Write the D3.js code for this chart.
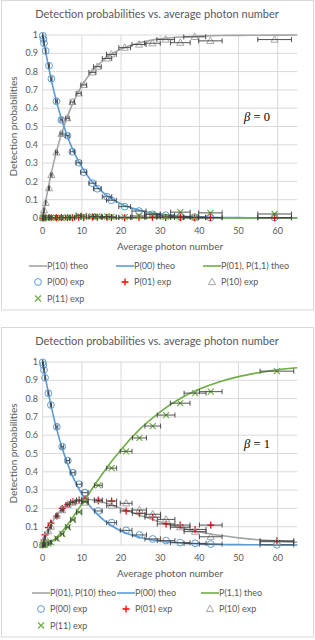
<!DOCTYPE html>
<html>
<head>
<meta charset="utf-8">
<script src="https://cdn.jsdelivr.net/npm/d3@7"></script>
<style>
body { margin: 0; background: #fff; }
svg { display: block; }
text { font-family: Lato, "Open Sans", sans-serif; fill: #595959; }
</style>
</head>
<body>
<svg id="canvas"></svg>
<script>
const WIDTH = 315;
const HEIGHT = 640;

// Theory curves
const theoN = [0, 1, 2, 3, 4, 5, 6, 7, 8, 10, 12, 14, 16, 18, 20, 25, 30, 35, 40, 45, 50, 55, 60, 65];
const p00Theo = [1, 0.88, 0.774, 0.681, 0.599, 0.527, 0.464, 0.408, 0.359, 0.278, 0.215, 0.167, 0.129, 0.1, 0.077, 0.041, 0.021, 0.011, 0.006, 0.003, 0.002, 0.001, 0.0005, 0.0002];
const b0P10Theo = [0, 0.12, 0.226, 0.319, 0.401, 0.473, 0.536, 0.592, 0.641, 0.722, 0.785, 0.833, 0.871, 0.9, 0.923, 0.959, 0.979, 0.989, 0.994, 0.997, 0.998, 0.999, 0.9995, 0.9998];
const b0P11Theo = [0, 0, 0, 0, 0, 0, 0, 0, 0, 0, 0, 0, 0, 0, 0, 0, 0, 0, 0, 0, 0, 0, 0, 0];
const b1P01Theo = [0, 0.058, 0.106, 0.144, 0.175, 0.199, 0.217, 0.231, 0.24, 0.249, 0.249, 0.241, 0.23, 0.216, 0.201, 0.161, 0.126, 0.095, 0.071, 0.053, 0.039, 0.029, 0.021, 0.015];
const b1P11Theo = [0, 0.004, 0.014, 0.031, 0.051, 0.075, 0.102, 0.13, 0.161, 0.224, 0.287, 0.351, 0.411, 0.468, 0.521, 0.637, 0.728, 0.799, 0.852, 0.891, 0.92, 0.941, 0.958, 0.969];

// Measurements, beta = 0
const b0N = [0, 0.18, 0.33, 0.77, 1.61, 2.22, 3.5, 4.77, 6.31, 7.58, 9.19, 10.47, 12.69, 13.96, 16.42, 17.54, 20.93, 24.59, 28.01, 31.4, 35.15, 38.81, 42.81, 59.21];
const b0Err = [0, 0.02, 0.03, 0.06, 0.12, 0.16, 0.25, 0.35, 0.45, 0.55, 0.65, 0.75, 0.9, 1.0, 1.2, 1.25, 1.5, 1.8, 2.0, 2.25, 2.5, 2.8, 3.0, 4.3];
const b0P00 = [0.996, 0.978, 0.955, 0.913, 0.832, 0.761, 0.638, 0.536, 0.45, 0.362, 0.302, 0.25, 0.19, 0.16, 0.116, 0.097, 0.062, 0.038, 0.02, 0.015, 0.007, 0.005, 0.002, 0.002];
const b0P01 = [0, 0.001, 0.001, 0.002, 0.003, 0.002, 0.002, 0.003, 0.002, 0.002, 0.004, 0.003, 0.005, 0.004, 0.004, 0.003, 0.002, 0.003, 0.004, 0.003, 0.003, 0.002, 0.002, 0.001];
const b0P10 = [0.004, 0.02, 0.043, 0.083, 0.163, 0.235, 0.358, 0.46, 0.545, 0.634, 0.681, 0.727, 0.796, 0.827, 0.872, 0.894, 0.931, 0.948, 0.955, 0.975, 0.958, 0.99, 0.968, 0.975];
const b0P11 = [0, 0.001, 0.001, 0.002, 0.002, 0.002, 0.002, 0.001, 0.003, 0.002, 0.013, 0.01, 0.009, 0.009, 0.008, 0.006, 0.005, 0.011, 0.021, 0.007, 0.032, 0.003, 0.028, 0.022];

// Measurements, beta = 1
const b1N = [0, 0.15, 0.33, 0.6, 1.45, 2.1, 3.6, 5.0, 6.4, 7.7, 9.3, 10.8, 14.2, 17.6, 21.3, 24.7, 28.1, 31.5, 35.1, 38.9, 42.9, 59.8];
const b1Err = [0, 0.01, 0.03, 0.05, 0.11, 0.15, 0.26, 0.36, 0.46, 0.55, 0.67, 0.78, 1.0, 1.27, 1.5, 1.8, 2.0, 2.25, 2.5, 2.8, 2.9, 4.3];
const b1P00 = [0.998, 0.984, 0.956, 0.914, 0.829, 0.765, 0.646, 0.537, 0.461, 0.395, 0.332, 0.286, 0.186, 0.122, 0.08, 0.055, 0.033, 0.024, 0.013, 0.009, 0.005, 0.001];
const b1P01 = [0, 0.01, 0.027, 0.055, 0.095, 0.12, 0.158, 0.2, 0.222, 0.237, 0.246, 0.25, 0.242, 0.24, 0.186, 0.173, 0.152, 0.115, 0.109, 0.085, 0.109, 0.023];
const b1P10 = [0, 0.008, 0.02, 0.04, 0.075, 0.1, 0.16, 0.19, 0.22, 0.232, 0.24, 0.232, 0.246, 0.215, 0.228, 0.191, 0.168, 0.14, 0.097, 0.073, 0.045, 0.018];
const b1P11 = [0, 0.001, 0.002, 0.003, 0.008, 0.015, 0.035, 0.06, 0.097, 0.137, 0.18, 0.237, 0.326, 0.42, 0.512, 0.585, 0.65, 0.71, 0.775, 0.83, 0.838, 0.95];

const xTicks = [0, 10, 20, 30, 40, 50, 60];
const yTicks = [0, 0.1, 0.2, 0.3, 0.4, 0.5, 0.6, 0.7, 0.8, 0.9, 1];

const BLUE = "#5B9BD5";
const GREY = "#A5A5A5";
const GREEN = "#70AD47";
const RED = "#FF0000";
const ERRCOL = "#404040";

const svg = d3.select("#canvas").attr("width", WIDTH).attr("height", HEIGHT);

const x = d3.scaleLinear().domain([0, 65]).range([42.7, 297.3]);
const y = d3.scaleLinear().domain([0, 1]).range([218, 35]);

const markers = {
    circle: (g) => g.append("circle").attr("r", 3.4).attr("fill", "none").attr("stroke", BLUE).attr("stroke-width", 1),
    plus: (g) => g.append("path").attr("d", "M-3.5,0H3.5M0,-3.5V3.5").attr("stroke", RED).attr("stroke-width", 1.3),
    triangle: (g) => g.append("path").attr("d", "M0,-3.8L3.6,2.6L-3.6,2.6Z").attr("fill", "none").attr("stroke", GREY).attr("stroke-width", 1),
    cross: (g) => g.append("path").attr("d", "M-3,-3L3,3M-3,3L3,-3").attr("stroke", GREEN).attr("stroke-width", 1.2)
};

drawChart({
    top: 0,
    beta: "0",
    theo: [
        { name: "P(10) theo", values: b0P10Theo, color: GREY },
        { name: "P(00) theo", values: p00Theo, color: BLUE },
        { name: "P(01), P(1,1) theo", values: b0P11Theo, color: GREEN }
    ],
    n: b0N, err: b0Err,
    exp: [
        { name: "P(00) exp", values: b0P00, marker: "circle" },
        { name: "P(01) exp", values: b0P01, marker: "plus" },
        { name: "P(10) exp", values: b0P10, marker: "triangle" },
        { name: "P(11) exp", values: b0P11, marker: "cross" }
    ],
    legendCols: [29, 116, 203]
});

drawChart({
    top: 327,
    beta: "1",
    theo: [
        { name: "P(01), P(10) theo", values: b1P01Theo, color: GREY },
        { name: "P(00) theo", values: p00Theo, color: BLUE },
        { name: "P(1,1) theo", values: b1P11Theo, color: GREEN }
    ],
    n: b1N, err: b1Err,
    exp: [
        { name: "P(00) exp", values: b1P00, marker: "circle" },
        { name: "P(01) exp", values: b1P01, marker: "plus" },
        { name: "P(10) exp", values: b1P10, marker: "triangle" },
        { name: "P(11) exp", values: b1P11, marker: "cross" }
    ],
    legendCols: [32, 117, 201]
});

function drawChart(cfg) {
    const g = svg.append("g").attr("transform", `translate(0,${cfg.top})`);

    g.append("rect")
        .attr("x", 1.5).attr("y", 0.5)
        .attr("width", 312).attr("height", 309.5)
        .attr("fill", "#fff").attr("stroke", "#D9D9D9");

    g.append("text")
        .attr("x", 157).attr("y", 18)
        .attr("text-anchor", "middle")
        .style("font-size", "11px")
        .text("Detection probabilities vs. average photon number");

    // gridlines
    g.append("g").selectAll("line").data(yTicks).enter().append("line")
        .attr("x1", x(0)).attr("x2", x(65))
        .attr("y1", (d) => y(d)).attr("y2", (d) => y(d))
        .attr("stroke", "#D9D9D9").attr("stroke-width", 1);
    g.append("g").selectAll("line").data(xTicks).enter().append("line")
        .attr("x1", (d) => x(d)).attr("x2", (d) => x(d))
        .attr("y1", y(0)).attr("y2", y(1))
        .attr("stroke", "#D9D9D9").attr("stroke-width", 1);

    // tick labels
    g.append("g").selectAll("text").data(xTicks).enter().append("text")
        .attr("x", (d) => x(d)).attr("y", 234)
        .attr("text-anchor", "middle")
        .style("font-size", "9px")
        .text((d) => d);
    g.append("g").selectAll("text").data(yTicks).enter().append("text")
        .attr("x", 38).attr("y", (d) => y(d)).attr("dy", "0.35em")
        .attr("text-anchor", "end")
        .style("font-size", "9px")
        .text((d) => d3.format("~g")(d));

    g.append("text")
        .attr("x", 170).attr("y", 249.5)
        .attr("text-anchor", "middle")
        .style("font-size", "10px")
        .text("Average photon number");
    g.append("text")
        .attr("transform", `translate(16.5,${(y(0) + y(1)) / 2}) rotate(-90)`)
        .attr("text-anchor", "middle")
        .style("font-size", "10px")
        .text("Detection probabilities");

    // beta label
    const beta = g.append("text")
        .attr("x", 257).attr("y", 121)
        .attr("text-anchor", "middle")
        .style("font-family", "'Liberation Serif', serif")
        .style("font-size", "12.5px")
        .style("fill", "#000");
    beta.append("tspan").style("font-style", "italic").text("β");
    beta.append("tspan").text(" = " + cfg.beta);

    // theory lines
    const line = d3.line()
        .x((d, i) => x(theoN[i]))
        .y((d) => y(d))
        .curve(d3.curveMonotoneX);
    cfg.theo.forEach((s) => {
        g.append("path")
            .attr("d", line(s.values))
            .attr("fill", "none")
            .attr("stroke", s.color)
            .attr("stroke-width", 1.6);
    });

    // experimental points with horizontal error bars
    cfg.exp.forEach((s) => {
        const pts = g.append("g").selectAll("g").data(s.values).enter().append("g")
            .attr("transform", (d, i) => `translate(${x(cfg.n[i])},${y(d)})`);
        markers[s.marker](pts);
        const bars = g.append("g");
        s.values.forEach((d, i) => {
            const x1 = x(cfg.n[i] - cfg.err[i]);
            const x2 = x(cfg.n[i] + cfg.err[i]);
            const yy = y(d);
            bars.append("path")
                .attr("d", `M${x1},${yy}H${x2}M${x1},${yy - 2.5}V${yy + 2.5}M${x2},${yy - 2.5}V${yy + 2.5}`)
                .attr("fill", "none")
                .attr("stroke", ERRCOL)
                .attr("stroke-width", 0.9);
        });
    });

    // legend
    const legend = g.append("g").style("font-size", "9px");
    const cols = cfg.legendCols;
    cfg.theo.forEach((s, i) => {
        const lx = cols[i];
        legend.append("line")
            .attr("x1", lx).attr("x2", lx + 18)
            .attr("y1", 266).attr("y2", 266)
            .attr("stroke", s.color).attr("stroke-width", 1.6);
        legend.append("text")
            .attr("x", lx + 18).attr("y", 266).attr("dy", "0.35em")
            .text(s.name);
    });
    cfg.exp.forEach((s, i) => {
        const row = Math.floor(i / 3);
        const col = i % 3;
        const ly = 282 + row * 16.5;
        const lx = cols[col] + 9;
        const m = legend.append("g").attr("transform", `translate(${lx},${ly})`);
        markers[s.marker](m);
        legend.append("text")
            .attr("x", lx + 9).attr("y", ly).attr("dy", "0.35em")
            .text(s.name);
    });
}
</script>
</body>
</html>
